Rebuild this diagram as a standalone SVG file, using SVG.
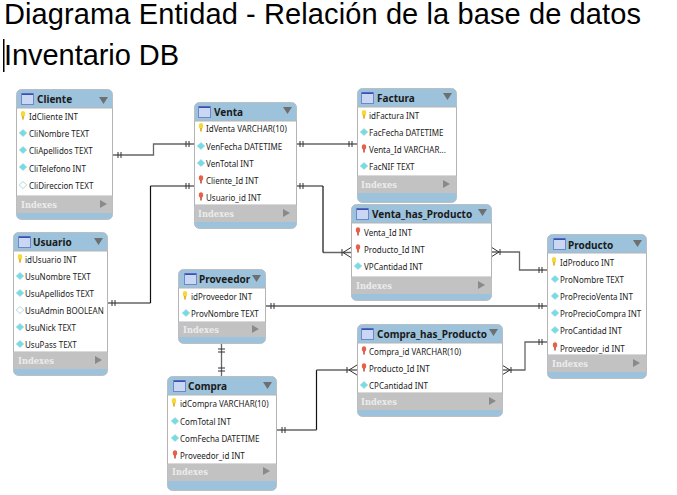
<svg xmlns="http://www.w3.org/2000/svg" width="677" height="495" viewBox="0 0 677 495">
<style>
text{font-family:"Noto Sans","DejaVu Sans",sans-serif}
.title{font-family:"Liberation Sans",Arial,sans-serif;font-size:29px;fill:#000}
.card{fill:#9dc2db;stroke:#b9bfc3;stroke-width:1}
.body{fill:#fff;stroke:#b4b4b4;stroke-width:1}
.idx{fill:#c2c2c2}
.name{font-size:10px;font-weight:700;fill:#1a1a1a}
.f{font-size:8px;fill:#222}
.ix{font-size:8.300px;font-weight:700;fill:#ececec;font-family:"DejaVu Serif",serif}
.tri{fill:#6f6f6f}
.tri2{fill:#8a8a8a}
.c{fill:none;stroke:#666;stroke-width:1.300}
.t{fill:none;stroke:#333;stroke-width:1}
.k{fill:none;stroke:#111;stroke-width:1.200}
</style>
<defs>
<g id="tbl"><rect x="0.500" y="0.500" width="12" height="11" fill="#c9d7f2" stroke="#6f86cf"/><rect x="1" y="0.500" width="11" height="1.500" fill="#3a4fb0"/></g>
<g id="key"><ellipse cx="0" cy="-2" rx="2.200" ry="3" fill="#f6d83a"/><rect x="-0.800" y="0" width="1.600" height="3.500" fill="#d9a91c"/></g>
<g id="fk"><ellipse cx="0" cy="-2" rx="2.200" ry="2.800" fill="#e8604c"/><rect x="-0.800" y="0" width="1.600" height="3.500" fill="#c0533f"/></g>
<path id="dia" d="M0-3.500 3.800 0 0 3.500-3.800 0Z" fill="#72dde4" stroke="#a9d4d8" stroke-width=".6"/>
<path id="dia0" d="M0-3.500 3.800 0 0 3.500-3.800 0Z" fill="#fff" stroke="#9ccfd4" stroke-width=".8"/>
<path id="dn" class="tri" d="M0 0H9L4.500 7Z"/>
<path id="rt" class="tri2" d="M0 0 7 4 0 8Z"/>
</defs>

<text class="title" x="4" y="24" textLength="637">Diagrama Entidad - Relación de la base de datos</text>
<text class="title" x="4" y="65" textLength="175">Inventario DB</text>
<rect x="3" y="39" width="1.500" height="33" fill="#000"/>

<g id="connectors">
<path class="c" d="M112 155H153.500V144H194"/><path class="t" d="M118 152v6M121 152v6M186 141v6M189 141v6"/>
<path class="c" d="M107 303H150.500M150.500 186H194"/><path class="k" d="M150.500 303V186"/><path class="t" d="M112 300v6M115 300v6M186 183v6M189 183v6"/>
<path class="c" d="M296 144H357"/><path class="t" d="M300 141v6M303 141v6M349 141v6M352 141v6"/>
<path class="c" d="M296 186H323M323 252.500H351"/><path class="k" d="M323 186V252.500"/><path class="t" d="M300 183v6M303 183v6M342 249v7M351 247.500 343 252.500 351 257.500"/>
<path class="c" d="M491 252H519.500V270H547"/><path class="t" d="M491 247 499 252 491 257M500 249v6M539 267v6M542 267v6"/>
<path class="k" d="M265 306H547"/><path class="t" d="M271 303v6M274 303v6M539 303v6M542 303v6"/>
<path class="c" d="M221.500 344V376"/><path class="t" d="M218 349h7M218 352h7M218 368h7M218 371h7"/>
<path class="k" d="M316.500 430V370"/><path class="c" d="M276 430H316.500M316.500 370H357"/><path class="t" d="M282 427v6M285 427v6M347 367v6M357 365 349 370 357 375"/>
<path class="c" d="M502 370H525V342H547"/><path class="t" d="M502 365 510 370 502 375M511 367v6M539 339v6M542 339v6"/>
</g>

<g id="cliente">
<rect class="card" x="16.500" y="89.500" width="96" height="130" rx="5"/>
<rect class="body" x="16.500" y="108" width="96" height="88"/><rect class="idx" x="17" y="196" width="95" height="17"/>
<use href="#tbl" x="21" y="93"/><text class="name" x="37" y="103">Cliente</text><use href="#dn" x="99" y="97"/>
<use href="#key" x="23" y="116"/><text class="f" x="29" y="120">IdCliente INT</text>
<use href="#dia" x="23" y="133"/><text class="f" x="29" y="137">CliNombre TEXT</text>
<use href="#dia" x="23" y="150"/><text class="f" x="29" y="154">CliApellidos TEXT</text>
<use href="#dia" x="23" y="167"/><text class="f" x="29" y="172">CliTelefono INT</text>
<use href="#dia0" x="23" y="185"/><text class="f" x="29" y="189">CliDireccion TEXT</text>
<text class="ix" x="21" y="208">Indexes</text><use href="#rt" x="100" y="200"/>
</g>

<g id="venta">
<rect class="card" x="194.500" y="102.500" width="102" height="126" rx="5"/>
<rect class="body" x="194.500" y="121" width="102" height="84"/><rect class="idx" x="195" y="205" width="101" height="17"/>
<use href="#tbl" x="198" y="106"/><text class="name" x="214" y="116">Venta</text><use href="#dn" x="283" y="107"/>
<use href="#key" x="201" y="128"/><text class="f" x="206" y="132">IdVenta VARCHAR(10)</text>
<use href="#dia" x="201" y="146"/><text class="f" x="206" y="150">VenFecha DATETIME</text>
<use href="#dia" x="201" y="163"/><text class="f" x="206" y="167">VenTotal INT</text>
<use href="#fk" x="201" y="180"/><text class="f" x="206" y="184">Cliente_Id INT</text>
<use href="#fk" x="201" y="197"/><text class="f" x="206" y="201">Usuario_id INT</text>
<text class="ix" x="198" y="217">Indexes</text><use href="#rt" x="283" y="209"/>
</g>

<g id="factura">
<rect class="card" x="357.500" y="88.500" width="99" height="114" rx="5"/>
<rect class="body" x="357.500" y="107" width="99" height="69"/><rect class="idx" x="358" y="176" width="98" height="17"/>
<use href="#tbl" x="361" y="92"/><text class="name" x="377" y="102">Factura</text><use href="#dn" x="443" y="93"/>
<use href="#key" x="364" y="115"/><text class="f" x="369" y="119">idFactura INT</text>
<use href="#dia" x="364" y="132"/><text class="f" x="369" y="136">FacFecha DATETIME</text>
<use href="#fk" x="364" y="149"/><text class="f" x="369" y="153">Venta_Id VARCHAR...</text>
<use href="#dia" x="364" y="166"/><text class="f" x="369" y="170">FacNIF TEXT</text>
<text class="ix" x="361" y="188">Indexes</text><use href="#rt" x="443" y="180"/>
</g>

<g id="venta_has_producto">
<rect class="card" x="351.500" y="204.500" width="140" height="96" rx="5"/>
<rect class="body" x="351.500" y="223" width="140" height="54"/><rect class="idx" x="352" y="277" width="139" height="17"/>
<use href="#tbl" x="356" y="208"/><text class="name" x="372" y="218">Venta_has_Producto</text><use href="#dn" x="478" y="209"/>
<use href="#fk" x="358" y="232"/><text class="f" x="364" y="236">Venta_Id INT</text>
<use href="#fk" x="358" y="249"/><text class="f" x="364" y="253">Producto_Id INT</text>
<use href="#dia" x="358" y="266"/><text class="f" x="364" y="270">VPCantidad INT</text>
<text class="ix" x="356" y="289">Indexes</text><use href="#rt" x="478" y="281"/>
</g>

<g id="producto">
<rect class="card" x="547.500" y="234.500" width="99" height="144" rx="5"/>
<rect class="body" x="547.500" y="253" width="99" height="102"/><rect class="idx" x="548" y="355" width="98" height="17"/>
<use href="#tbl" x="553" y="238"/><text class="name" x="568" y="249">Producto</text><use href="#dn" x="633" y="240"/>
<use href="#key" x="554" y="262"/><text class="f" x="560" y="266">IdProduco INT</text>
<use href="#dia" x="555" y="279"/><text class="f" x="560" y="283">ProNombre TEXT</text>
<use href="#dia" x="555" y="296"/><text class="f" x="560" y="300">ProPrecioVenta INT</text>
<use href="#dia" x="555" y="313"/><text class="f" x="560" y="317">ProPrecioCompra INT</text>
<use href="#dia" x="555" y="330"/><text class="f" x="560" y="334">ProCantidad INT</text>
<use href="#fk" x="555" y="347"/><text class="f" x="560" y="352">Proveedor_id INT</text>
<text class="ix" x="552" y="367">Indexes</text><use href="#rt" x="633" y="359"/>
</g>

<g id="usuario">
<rect class="card" x="13.500" y="232.500" width="94" height="143" rx="5"/>
<rect class="body" x="13.500" y="251" width="94" height="101"/><rect class="idx" x="14" y="352" width="93" height="17"/>
<use href="#tbl" x="18" y="236"/><text class="name" x="33" y="246">Usuario</text><use href="#dn" x="94" y="238"/>
<use href="#key" x="20" y="259"/><text class="f" x="25" y="263">idUsuario INT</text>
<use href="#dia" x="20" y="276"/><text class="f" x="25" y="280">UsuNombre TEXT</text>
<use href="#dia" x="20" y="293"/><text class="f" x="25" y="297">UsuApellidos TEXT</text>
<use href="#dia0" x="20" y="310"/><text class="f" x="25" y="314">UsuAdmin BOOLEAN</text>
<use href="#dia" x="20" y="327"/><text class="f" x="25" y="331">UsuNick TEXT</text>
<use href="#dia" x="20" y="344"/><text class="f" x="25" y="348">UsuPass TEXT</text>
<text class="ix" x="18" y="364">Indexes</text><use href="#rt" x="95" y="356"/>
</g>

<g id="proveedor">
<rect class="card" x="178.500" y="269.500" width="87" height="74" rx="5"/>
<rect class="body" x="178.500" y="288" width="87" height="34"/><rect class="idx" x="179" y="322" width="86" height="15"/>
<use href="#tbl" x="184" y="273"/><text class="name" x="199" y="283">Proveedor</text><use href="#dn" x="252" y="275"/>
<use href="#key" x="185" y="296"/><text class="f" x="191" y="300">idProveedor INT</text>
<use href="#dia" x="186" y="313"/><text class="f" x="191" y="317">ProvNombre TEXT</text>
<text class="ix" x="183" y="333">Indexes</text><use href="#rt" x="252" y="325"/>
</g>

<g id="compra">
<rect class="card" x="167.500" y="376.500" width="109" height="114" rx="5"/>
<rect class="body" x="167.500" y="395" width="109" height="69"/><rect class="idx" x="168" y="464" width="108" height="17"/>
<use href="#tbl" x="173" y="380"/><text class="name" x="188" y="390">Compra</text><use href="#dn" x="263" y="382"/>
<use href="#key" x="174" y="403"/><text class="f" x="180" y="407">idCompra VARCHAR(10)</text>
<use href="#dia" x="175" y="421"/><text class="f" x="180" y="425">ComTotal INT</text>
<use href="#dia" x="175" y="438"/><text class="f" x="180" y="442">ComFecha DATETIME</text>
<use href="#fk" x="175" y="455"/><text class="f" x="180" y="459">Proveedor_id INT</text>
<text class="ix" x="172" y="475">Indexes</text><use href="#rt" x="263" y="467"/>
</g>

<g id="compra_has_producto">
<rect class="card" x="357.500" y="324.500" width="145" height="92" rx="5"/>
<rect class="body" x="357.500" y="343" width="145" height="50"/><rect class="idx" x="358" y="393" width="144" height="17"/>
<use href="#tbl" x="361" y="328"/><text class="name" x="377" y="338">Compra_has_Producto</text><use href="#dn" x="489" y="329"/>
<use href="#fk" x="364" y="351"/><text class="f" x="369" y="355">Compra_id VARCHAR(10)</text>
<use href="#fk" x="364" y="368"/><text class="f" x="369" y="372">Producto_Id INT</text>
<use href="#dia" x="364" y="385"/><text class="f" x="369" y="389">CPCantidad INT</text>
<text class="ix" x="361" y="405">Indexes</text><use href="#rt" x="489" y="397"/>
</g>
</svg>
